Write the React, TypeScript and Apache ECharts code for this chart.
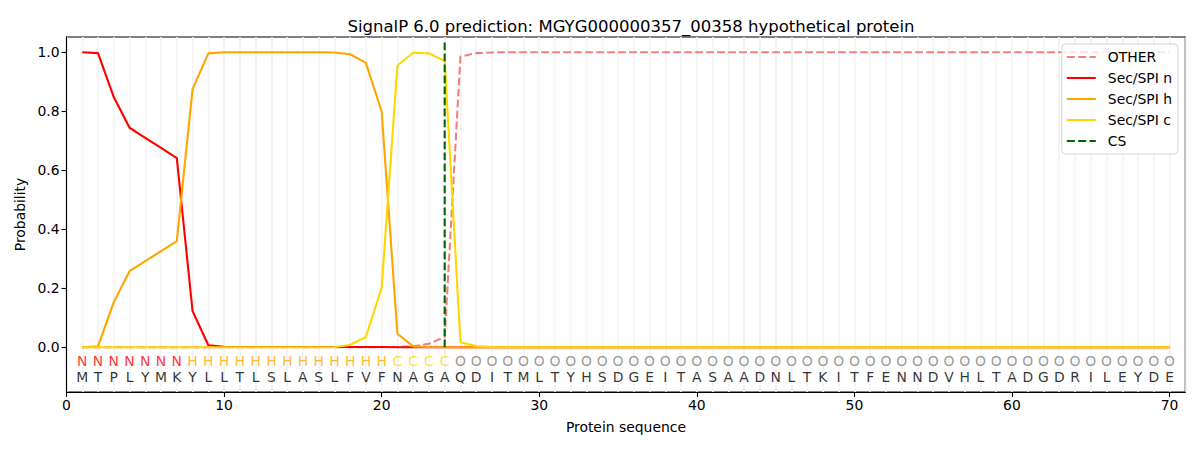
import React, { useEffect, useRef } from "react";
import * as echarts from "echarts";

const sequence = "MTPLYMKYLLTLSLASLFVFNAGAQDITMLTYHSDGEITASAADNLTKITFENNDVHLTADGDRILEYDE".split("");
const regionLabels = (
  "NNNNNNN" + "HHHHHHHHHHHHH" + "CCCC" +
  "OOOOOOOOOOOOOOOOOOOOOOOOOOOOOOOOOOOOOOOOOOOOOO"
).split("");

const otherVals = [
  0.0, 0.0, 0.0, 0.0, 0.0, 0.0, 0.0, 0.0, 0.0, 0.0,
  0.0, 0.0, 0.0, 0.0, 0.0, 0.0, 0.0, 0.0, 0.0, 0.001,
  0.001, 0.003, 0.012, 0.035, 0.985, 0.997, 0.999, 1.0, 1.0, 1.0,
  1.0, 1.0, 1.0, 1.0, 1.0, 1.0, 1.0, 1.0, 1.0, 1.0,
  1.0, 1.0, 1.0, 1.0, 1.0, 1.0, 1.0, 1.0, 1.0, 1.0,
  1.0, 1.0, 1.0, 1.0, 1.0, 1.0, 1.0, 1.0, 1.0, 1.0,
  1.0, 1.0, 1.0, 1.0, 1.0, 1.0, 1.0, 1.0, 1.0, 1.0,
];
const nVals = [
  1.0, 0.997, 0.848, 0.744, 0.71, 0.676, 0.641, 0.123, 0.007, 0.002,
  0.001, 0.001, 0.001, 0.001, 0.001, 0.001, 0.001, 0.001, 0.001, 0.001,
  0.0, 0.0, 0.0, 0.0, 0.0, 0.0, 0.0, 0.0, 0.0, 0.0,
  0.0, 0.0, 0.0, 0.0, 0.0, 0.0, 0.0, 0.0, 0.0, 0.0,
  0.0, 0.0, 0.0, 0.0, 0.0, 0.0, 0.0, 0.0, 0.0, 0.0,
  0.0, 0.0, 0.0, 0.0, 0.0, 0.0, 0.0, 0.0, 0.0, 0.0,
  0.0, 0.0, 0.0, 0.0, 0.0, 0.0, 0.0, 0.0, 0.0, 0.0,
];
const hVals = [
  0.0, 0.003, 0.153, 0.258, 0.292, 0.326, 0.36, 0.875, 0.996, 1.0,
  1.0, 1.0, 1.0, 1.0, 1.0, 1.0, 0.999, 0.993, 0.964, 0.799,
  0.046, 0.003, 0.001, 0.0, 0.0, 0.0, 0.0, 0.0, 0.0, 0.0,
  0.0, 0.0, 0.0, 0.0, 0.0, 0.0, 0.0, 0.0, 0.0, 0.0,
  0.0, 0.0, 0.0, 0.0, 0.0, 0.0, 0.0, 0.0, 0.0, 0.0,
  0.0, 0.0, 0.0, 0.0, 0.0, 0.0, 0.0, 0.0, 0.0, 0.0,
  0.0, 0.0, 0.0, 0.0, 0.0, 0.0, 0.0, 0.0, 0.0, 0.0,
];
const cVals = [
  0.0, 0.0, 0.0, 0.0, 0.0, 0.0, 0.0, 0.0, 0.0, 0.0,
  0.0, 0.0, 0.0, 0.0, 0.0, 0.0, 0.001, 0.008, 0.035, 0.202,
  0.955, 0.998, 0.996, 0.97, 0.017, 0.004, 0.001, 0.0, 0.0, 0.0,
  0.0, 0.0, 0.0, 0.0, 0.0, 0.0, 0.0, 0.0, 0.0, 0.0,
  0.0, 0.0, 0.0, 0.0, 0.0, 0.0, 0.0, 0.0, 0.0, 0.0,
  0.0, 0.0, 0.0, 0.0, 0.0, 0.0, 0.0, 0.0, 0.0, 0.0,
  0.0, 0.0, 0.0, 0.0, 0.0, 0.0, 0.0, 0.0, 0.0, 0.0,
];
const csPosition = 24;
const csTop = 1.038;
const xTicks = [0, 10, 20, 30, 40, 50, 60, 70];
const yTicks = [0, 0.2, 0.4, 0.6, 0.8, 1.0];

const regionColors: Record<string, string> = {
  N: "#ff0000",
  H: "#ffa500",
  C: "#ffd700",
  O: "#808080",
};

const FONT = "DejaVu Sans";
const SOLID_ICON = "path://M0,0H28V2H0Z";
const DASHED_ICON = "path://M0,0H7.7V2H0Z M11,0H18.7V2H11Z M22,0H28V2H22Z";

export default function App() {
  const ref = useRef<HTMLDivElement>(null);
  useEffect(() => {
    if (!ref.current) return;
    const chart = echarts.init(ref.current, null, { renderer: "svg" });
    const toXY = (vals: number[]) => vals.map((v, i) => [i + 1, v]);
    const lineBase = {
      type: "line",
      symbol: "none",
      showSymbol: false,
      silent: true,
      z: 3,
    };
    const option: any = {
      animation: false,
      textStyle: { fontFamily: FONT },
      title: {
        text: "SignalP 6.0 prediction: MGYG000000357_00358 hypothetical protein",
        left: 626,
        top: 13,
        textAlign: "center",
        textStyle: { fontFamily: FONT, fontSize: 16.5, fontWeight: "normal", color: "#000" },
      },
      grid: {
        left: 66.5,
        right: 14.7,
        top: 37,
        bottom: 58,
        show: true,
        borderColor: "#000",
        borderWidth: 1.1,
        backgroundColor: "transparent",
      },
      legend: {
        orient: "vertical",
        right: 22,
        top: 44,
        data: [
          { name: "OTHER", icon: DASHED_ICON },
          { name: "Sec/SPI n", icon: SOLID_ICON },
          { name: "Sec/SPI h", icon: SOLID_ICON },
          { name: "Sec/SPI c", icon: SOLID_ICON },
          { name: "CS", icon: DASHED_ICON },
        ],
        itemWidth: 29,
        itemHeight: 2.1,
        itemGap: 5,
        padding: [5, 6, 5, 5],
        backgroundColor: "rgba(255,255,255,0.8)",
        borderColor: "#d5d5d5",
        borderWidth: 1,
        borderRadius: 4,
        textStyle: { fontFamily: FONT, fontSize: 13.9, color: "#000", padding: [0, 0, 0, 7], lineHeight: 16 },
      },
      xAxis: [
        {
          type: "value",
          min: 0,
          max: 71,
          interval: 10,
          name: "Protein sequence",
          nameLocation: "middle",
          nameGap: 28,
          nameTextStyle: { fontFamily: FONT, fontSize: 13.9, color: "#000" },
          axisLine: { show: true, onZero: false, lineStyle: { color: "#000", width: 1.1 } },
          axisTick: { show: true, length: 5, lineStyle: { color: "#000", width: 1.1 }, customValues: xTicks },
          axisLabel: { fontFamily: FONT, fontSize: 13.9, color: "#000", margin: 6, customValues: xTicks },
          splitLine: { show: false },
        },
        {
          type: "value",
          min: 0,
          max: 71,
          interval: 1,
          position: "bottom",
          axisLine: { show: false },
          axisTick: { show: false },
          axisLabel: { show: false },
          splitLine: { show: true, lineStyle: { color: "#f3f3f3", width: 1.6 } },
        },
      ],
      yAxis: {
        type: "value",
        min: -0.1515,
        max: 1.0515,
        name: "Probability",
        nameLocation: "middle",
        nameGap: 35,
        nameTextStyle: { fontFamily: FONT, fontSize: 13.9, color: "#000" },
        axisLine: { show: true, onZero: false, lineStyle: { color: "#000", width: 1.1 } },
        axisTick: { show: true, length: 5, lineStyle: { color: "#000", width: 1.1 }, customValues: yTicks },
        axisLabel: {
          fontFamily: FONT,
          fontSize: 13.9,
          color: "#000",
          margin: 7,
          customValues: yTicks,
          formatter: (v: number) => v.toFixed(1),
        },
        splitLine: { show: false },
      },
      series: [
        {
          ...lineBase,
          name: "OTHER",
          data: toXY(otherVals),
          lineStyle: { color: "#f08080", width: 2.1, type: [7.7, 3.3] },
          itemStyle: { color: "#f08080" },
        },
        {
          ...lineBase,
          name: "Sec/SPI n",
          data: toXY(nVals),
          lineStyle: { color: "#ff0000", width: 2.1 },
          itemStyle: { color: "#ff0000" },
        },
        {
          ...lineBase,
          name: "Sec/SPI h",
          data: toXY(hVals),
          lineStyle: { color: "#ffa500", width: 2.1 },
          itemStyle: { color: "#ffa500" },
        },
        {
          ...lineBase,
          name: "Sec/SPI c",
          data: toXY(cVals),
          lineStyle: { color: "#ffd700", width: 2.1 },
          itemStyle: { color: "#ffd700" },
        },
        {
          ...lineBase,
          name: "CS",
          data: [
            [csPosition, 0],
            [csPosition, csTop],
          ],
          lineStyle: { color: "#006400", width: 2.1, type: [7.7, 3.3] },
          itemStyle: { color: "#006400" },
          z: 4,
        },
        {
          type: "scatter",
          name: "regions",
          silent: true,
          symbolSize: 0,
          data: regionLabels.map((r, i) => ({
            value: [i + 1, -0.047],
            label: { color: regionColors[r] },
          })),
          label: {
            show: true,
            position: "inside",
            fontFamily: FONT,
            fontSize: 13.9,
            formatter: (p: any) => regionLabels[p.dataIndex],
          },
          z: 5,
        },
        {
          type: "scatter",
          name: "residues",
          silent: true,
          symbolSize: 0,
          data: sequence.map((s, i) => [i + 1, -0.1]),
          label: {
            show: true,
            position: "inside",
            fontFamily: FONT,
            fontSize: 13.9,
            color: "#000",
            formatter: (p: any) => sequence[p.dataIndex],
          },
          z: 5,
        },
      ],
    };
    chart.setOption(option);
    return () => chart.dispose();
  }, []);
  return <div ref={ref} style={{ width: 1200, height: 450, margin: -8 }} />;
}
